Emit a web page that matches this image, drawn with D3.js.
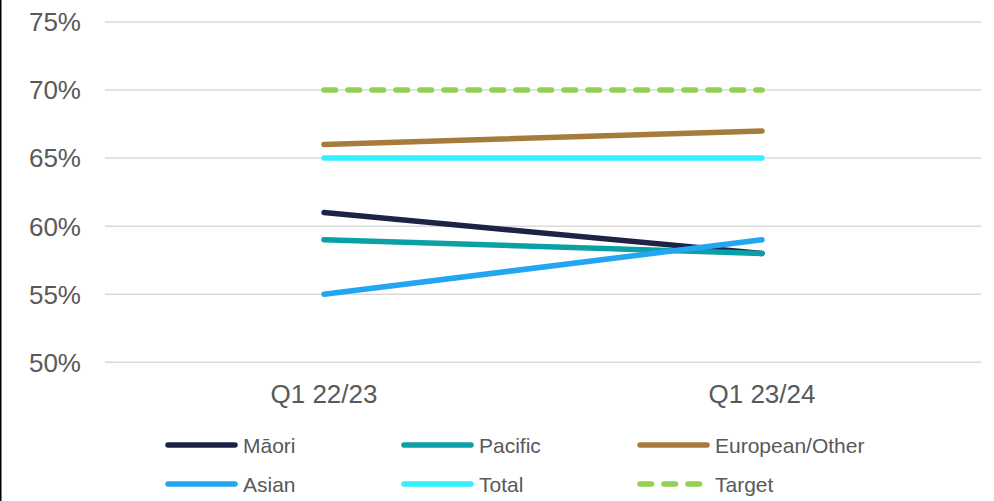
<!DOCTYPE html>
<html>
<head>
<meta charset="utf-8">
<script src="https://cdn.jsdelivr.net/npm/d3@7/dist/d3.min.js"></script>
<style>
  html, body { margin: 0; padding: 0; background: #fff; }
  svg { display: block; font-family: "Liberation Sans", Arial, sans-serif; }
</style>
</head>
<body>
<svg id="chart" width="994" height="501"></svg>
<script>
// Periods on the x axis
const periods = ["Q1 22/23", "Q1 23/24"];

// Share by ethnicity (%) for each period
const maori    = [61, 58];
const pacific  = [59, 58];
const european = [66, 67];
const asian    = [55, 59];
const total    = [65, 65];
const target   = [70, 70];

// Y axis ticks (%)
const yTicks = [50, 55, 60, 65, 70, 75];

const seriesList = [
  { name: "Māori",          values: maori,    color: "#1d2347", dash: null },
  { name: "Pacific",        values: pacific,  color: "#0aa0a6", dash: null },
  { name: "European/Other", values: european, color: "#a67b3c", dash: null },
  { name: "Asian",          values: asian,    color: "#22a6f2", dash: null },
  { name: "Total",          values: total,    color: "#33f0ff", dash: null },
  { name: "Target",         values: target,   color: "#92d050", dash: "11.5,12.5" }
];

const svg = d3.select("#chart");
const strokeW = 5.5;

const x = d3.scaleBand().domain(periods).range([105, 981]);
const y = d3.scaleLinear().domain([50, 75]).range([362.3, 22]);

// frame edge on the left
svg.append("line")
  .attr("x1", 0.75).attr("x2", 0.75).attr("y1", 0).attr("y2", 501)
  .attr("stroke", "#000").attr("stroke-width", 1.5);

// horizontal gridlines
svg.append("g").selectAll("line").data(yTicks).join("line")
  .attr("x1", 105).attr("x2", 981)
  .attr("y1", d => y(d)).attr("y2", d => y(d))
  .attr("stroke", "#d9d9d9").attr("stroke-width", 1.5);

// y tick labels
svg.append("g").selectAll("text").data(yTicks).join("text")
  .attr("x", 81).attr("y", d => y(d))
  .attr("dy", "0.36em")
  .attr("text-anchor", "end")
  .attr("font-size", 26)
  .attr("fill", "#595959")
  .text(d => d + "%");

// x tick labels
svg.append("g").selectAll("text").data(periods).join("text")
  .attr("x", d => x(d) + x.bandwidth() / 2)
  .attr("y", 403)
  .attr("text-anchor", "middle")
  .attr("font-size", 26)
  .attr("fill", "#595959")
  .text(d => d);

// series lines
const line = d3.line()
  .x((d, i) => x(periods[i]) + x.bandwidth() / 2)
  .y(d => y(d));

svg.append("g").selectAll("path").data(seriesList).join("path")
  .attr("d", d => line(d.values))
  .attr("fill", "none")
  .attr("stroke", d => d.color)
  .attr("stroke-width", strokeW)
  .attr("stroke-linecap", "round")
  .attr("stroke-dasharray", d => d.dash);

// legend: three columns, two rows
const colX = [168, 404, 640];
const rowY = [445, 484];
const legend = svg.append("g").selectAll("g").data(seriesList).join("g")
  .attr("transform", (d, i) => `translate(${colX[i % 3]},${rowY[Math.floor(i / 3)]})`);

legend.append("line")
  .attr("x1", 0).attr("x2", d => d.dash ? 64 : 67)
  .attr("y1", 0).attr("y2", 0)
  .attr("stroke", d => d.color)
  .attr("stroke-width", strokeW)
  .attr("stroke-linecap", "round")
  .attr("stroke-dasharray", d => d.dash);

legend.append("text")
  .attr("x", 75).attr("y", 0)
  .attr("dy", "0.36em")
  .attr("font-size", 21)
  .attr("fill", "#595959")
  .text(d => d.name);
</script>
</body>
</html>
